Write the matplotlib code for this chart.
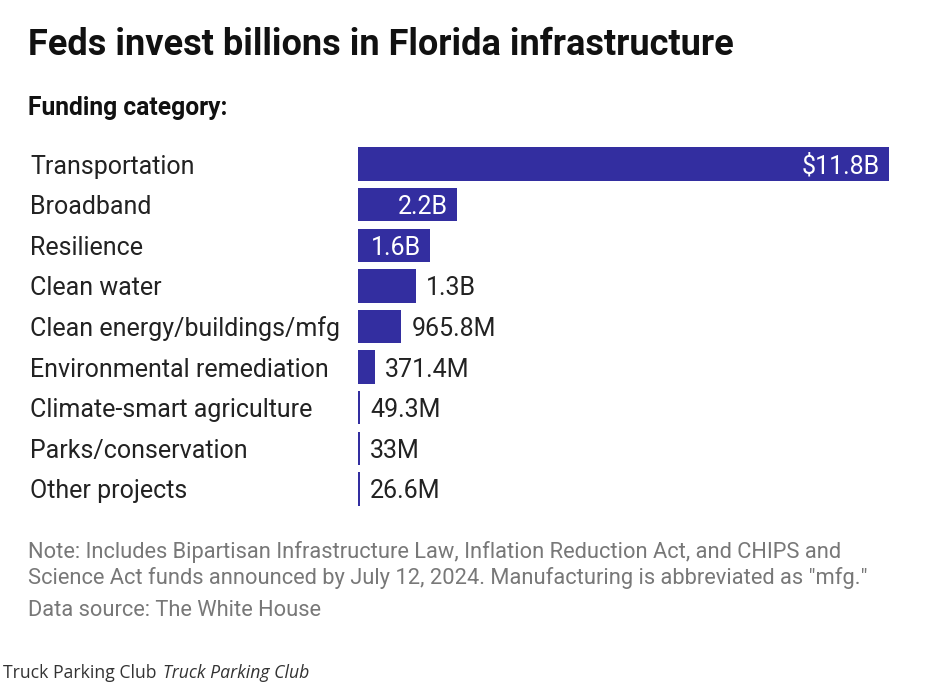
import matplotlib
matplotlib.use('Agg')
import matplotlib.pyplot as plt

categories = ["Transportation", "Broadband", "Resilience", "Clean water",
              "Clean energy/buildings/mfg", "Environmental remediation",
              "Climate-smart agriculture", "Parks/conservation", "Other projects"]
values = [11.8, 2.2, 1.6, 1.3, 0.9658, 0.3714, 0.0493, 0.033, 0.0266]  # billions
labels = ["$11.8B", "2.2B", "1.6B", "1.3B", "965.8M", "371.4M", "49.3M", "33M", "26.6M"]
inside = [True, True, True, False, False, False, False, False, False]

bar_color = "#332ea0"
font = "Roboto"

fig = plt.figure(figsize=(9.37, 6.92), dpi=100)
ax = fig.add_axes([358 / 937, 1 - 509.3 / 692, 531 / 937, 365.6 / 692])

y = list(range(len(categories)))
# tiny values get a minimum visible width
widths = [max(v, 0.045) for v in values]
ax.barh(y, widths, height=0.82, color=bar_color, edgecolor="none")
ax.set_xlim(0, 11.8)
ax.set_ylim(len(categories) - 0.5, -0.5)
ax.axis("off")

for i, (w, lab, ins) in enumerate(zip(widths, labels, inside)):
    if ins:
        ax.text(w - 0.2, i, lab, color="white", ha="right", va="center_baseline",
                fontsize=18, family=font)
    else:
        ax.text(w + 0.22, i, lab, color="#222222", ha="left", va="center_baseline",
                fontsize=18, family=font)

for i, c in enumerate(categories):
    ax.text(-328 / 45.0, i, c, color="#222222", ha="left", va="center_baseline",
            fontsize=18, family=font)

fig.text(28 / 937, 1 - 45 / 692, "Feds invest billions in Florida infrastructure",
         fontsize=26, fontweight="bold", family=font, color="#111111",
         ha="left", va="center")
fig.text(28 / 937, 1 - 108 / 692, "Funding category:", fontsize=17.7,
         fontweight="bold", family=font, color="#111111", ha="left", va="center")
fig.text(28 / 937, 1 - 552 / 692,
         "Note: Includes Bipartisan Infrastructure Law, Inflation Reduction Act, and CHIPS and",
         fontsize=15.75, family=font, color="#787878", ha="left", va="center")
fig.text(28 / 937, 1 - 578 / 692,
         "Science Act funds announced by July 12, 2024. Manufacturing is abbreviated as \"mfg.\"",
         fontsize=15.75, family=font, color="#787878", ha="left", va="center")
fig.text(28 / 937, 1 - 611 / 692, "Data source: The White House",
         fontsize=15.75, family=font, color="#787878", ha="left", va="center")

fig.text(3 / 937, 1 - 673 / 692, "Truck Parking Club", fontsize=12.7,
         family="Open Sans", color="#333333", ha="left", va="center")
fig.text(163 / 937, 1 - 673 / 692, "Truck Parking Club", fontsize=12.7,
         family="Open Sans", style="italic", color="#333333", ha="left", va="center")

fig.savefig("out.png", dpi=100)
plt.close(fig)
